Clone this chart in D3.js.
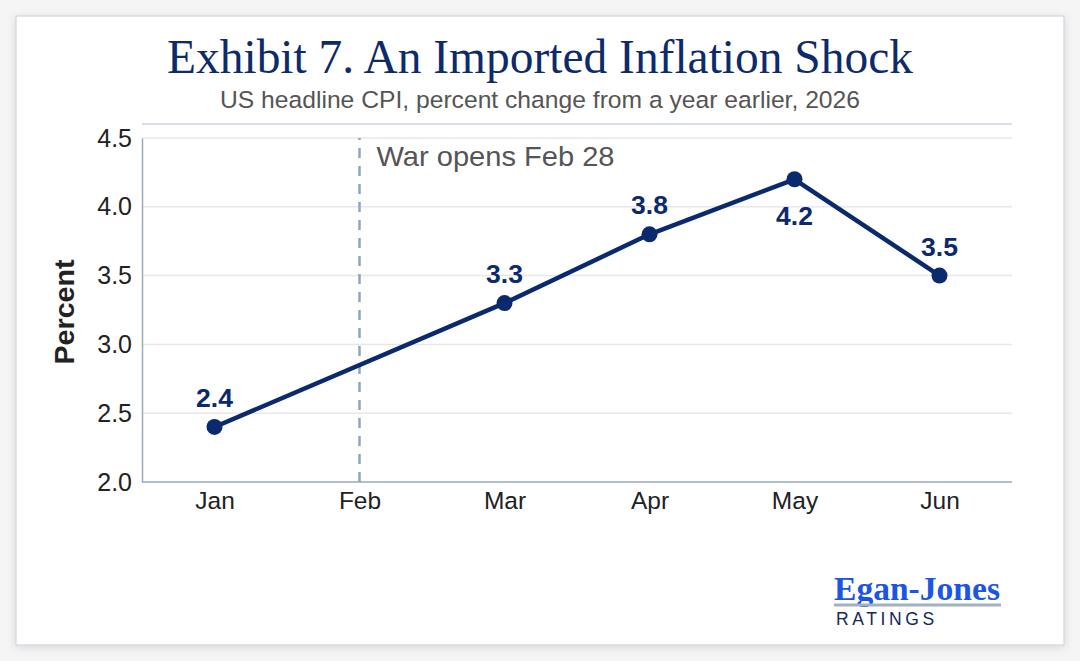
<!DOCTYPE html>
<html><head><meta charset="utf-8">
<script src="https://cdn.jsdelivr.net/npm/d3@7"></script>
<style>
html,body{margin:0;padding:0;background:#f5f5f6;}
svg{display:block;}
</style></head>
<body>
<svg id="c" width="1080" height="661"></svg>
<script>
const months = ["Jan","Feb","Mar","Apr","May","Jun"];
const cpi = [2.4, null, 3.3, 3.8, 4.2, 3.5];
const labelPos = ["above", null, "above", "above", "below", "above"];
const yTicks = [2.0, 2.5, 3.0, 3.5, 4.0, 4.5];
const eventMonth = "Feb";
const eventLabel = "War opens Feb 28";
const title = "Exhibit 7. An Imported Inflation Shock";
const subtitle = "US headline CPI, percent change from a year earlier, 2026";

const svg = d3.select("#c");
const navy = "#0b2a6e";
const sans = "'Liberation Sans',Arial,sans-serif";

const defs = svg.append("defs");
const f = defs.append("filter").attr("id","sh").attr("x","-5%").attr("y","-5%").attr("width","110%").attr("height","115%");
f.append("feDropShadow").attr("dx",0).attr("dy",2).attr("stdDeviation",4).attr("flood-color","#000").attr("flood-opacity",0.12);

svg.append("rect").attr("x",16).attr("y",16).attr("width",1048).attr("height",629)
  .attr("fill","#fff").attr("stroke","#cfd6e0").attr("stroke-width",1.2).attr("filter","url(#sh)");

svg.append("text").attr("x",540).attr("y",73).attr("text-anchor","middle")
  .attr("font-family","'Liberation Serif','DejaVu Serif',serif").attr("font-size",48)
  .attr("textLength",746).attr("lengthAdjust","spacingAndGlyphs")
  .attr("fill","#0d2a6b").text(title);

svg.append("text").attr("x",540).attr("y",108).attr("text-anchor","middle")
  .attr("font-family",sans).attr("font-size",24.5)
  .attr("textLength",640).attr("lengthAdjust","spacingAndGlyphs")
  .attr("fill","#555").text(subtitle);

const m = {l:142, r:1012, t:138, b:482};
const x = d3.scalePoint().domain(months).range([m.l, m.r]).padding(0.5);
const y = d3.scaleLinear().domain([2.0, 4.5]).range([m.b, m.t]);

// top rule
svg.append("line").attr("x1",m.l).attr("x2",m.r).attr("y1",124).attr("y2",124)
  .attr("stroke","#d9dfe9").attr("stroke-width",2);

// gridlines
svg.append("g").selectAll("line").data(yTicks.filter(d=>d>2.0)).join("line")
  .attr("x1",m.l).attr("x2",m.r).attr("y1",d=>y(d)).attr("y2",d=>y(d))
  .attr("stroke","#e8e8ea").attr("stroke-width",1.5);

// y axis
const ya = svg.append("g").attr("transform",`translate(${m.l},0)`)
  .call(d3.axisLeft(y).tickValues(yTicks).tickFormat(d3.format(".1f")).tickSize(0).tickPadding(10));
ya.select(".domain").attr("stroke","#9aaac0").attr("stroke-width",1.5);
ya.selectAll("text").attr("font-family",sans).attr("font-size",25).attr("fill","#222");

// x axis
const xa = svg.append("g").attr("transform",`translate(0,${m.b})`)
  .call(d3.axisBottom(x).tickSize(0).tickPadding(10));
xa.select(".domain").attr("d",`M${m.l},0H${m.r}`).attr("stroke","#9aaac0").attr("stroke-width",1.5);
xa.selectAll("text").attr("font-family",sans).attr("font-size",24.5).attr("fill","#222");

// y label
svg.append("text").attr("transform",`translate(74,312) rotate(-90)`).attr("text-anchor","middle")
  .attr("font-family",sans).attr("font-size",28.5).attr("font-weight","bold")
  .attr("textLength",105).attr("lengthAdjust","spacingAndGlyphs")
  .attr("fill","#222").text("Percent");

// event line
svg.append("line").attr("x1",x(eventMonth)).attr("x2",x(eventMonth)).attr("y1",m.b).attr("y2",m.t)
  .attr("stroke","#8fa5ba").attr("stroke-width",2.5).attr("stroke-dasharray","10,8");
svg.append("text").attr("x",x(eventMonth)+17).attr("y",166)
  .attr("font-family",sans).attr("font-size",28).attr("fill","#555")
  .attr("textLength",238).attr("lengthAdjust","spacingAndGlyphs")
  .text(eventLabel);

// line
const pts = months.map((mo,i)=>({mo, v:cpi[i], pos:labelPos[i]})).filter(d=>d.v!=null);
svg.append("path").datum(pts)
  .attr("d", d3.line().x(d=>x(d.mo)).y(d=>y(d.v)))
  .attr("fill","none").attr("stroke",navy).attr("stroke-width",4.5).attr("stroke-linejoin","round");
svg.append("g").selectAll("circle").data(pts).join("circle")
  .attr("cx",d=>x(d.mo)).attr("cy",d=>y(d.v)).attr("r",8).attr("fill",navy);
svg.append("g").selectAll("text").data(pts).join("text")
  .attr("x",d=>x(d.mo)).attr("y",d=>d.pos==="above"? y(d.v)-20 : y(d.v)+46)
  .attr("text-anchor","middle")
  .attr("font-family",sans).attr("font-size",26.5).attr("font-weight","bold")
  .attr("fill",navy).text(d=>d3.format(".1f")(d.v));

// logo
svg.append("text").attr("x",834).attr("y",600)
  .attr("font-family","'Liberation Serif','DejaVu Serif',serif").attr("font-size",34).attr("font-weight","bold")
  .attr("textLength",166).attr("lengthAdjust","spacingAndGlyphs")
  .attr("fill","#1a55e3").text("Egan-Jones");
svg.append("rect").attr("x",834).attr("y",603.5).attr("width",167).attr("height",3).attr("fill","#a2b0bf");
svg.append("text").attr("x",836).attr("y",625)
  .attr("font-family",sans).attr("font-size",17.5)
  .attr("letter-spacing",3.6).attr("fill","#14285a").text("RATINGS");
</script>
</body></html>
